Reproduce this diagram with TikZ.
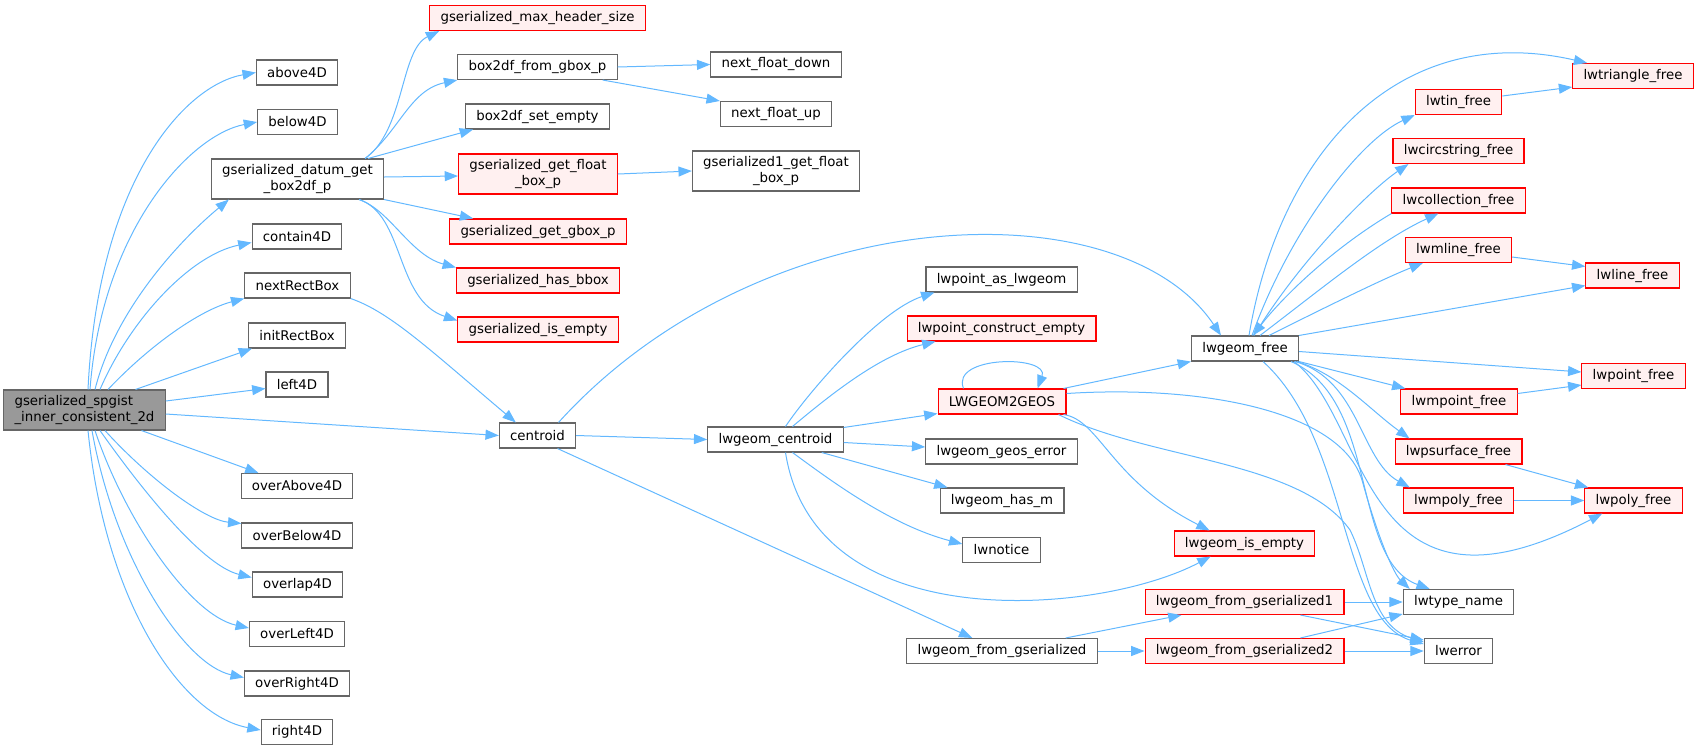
\documentclass[tikz,border=0pt]{standalone}
\usepackage{fontspec}
\setmainfont{DejaVu Sans}
\usepackage{xcolor}
\usetikzlibrary{arrows.meta,calc}

\definecolor{callblue}{HTML}{63B8FF}
\definecolor{boxgray}{HTML}{666666}
\definecolor{rootfill}{HTML}{999999}
\definecolor{redfill}{HTML}{FFF0F0}

\begin{document}
\begin{tikzpicture}[
    x=0.75pt, y=-0.75pt,
    fn/.style={rectangle, draw=boxgray, fill=white, line width=0.8pt, align=center,
        inner xsep=8.1pt, inner ysep=3pt, minimum height=18.75pt,
        font=\fontsize{10}{11.3}\selectfont},
    fnred/.style={fn, draw=red, fill=redfill},
    fnroot/.style={fn, fill=rootfill, align=left},
    two/.style={minimum height=30pt},
    call/.style={-{Triangle[length=10pt,width=7.5pt]}, draw=callblue, line width=0.75pt},
]
    \useasboundingbox (0,0) rectangle (1699,751);

    % caller
    \node[fnroot, two] (root) at (84.5,410) {gserialized\_spgist\\\_inner\_consistent\_2d};

    % first column
    \node[fn] (above) at (297,72.5) {above4D};
    \node[fn] (below) at (297.5,122) {below4D};
    \node[fn, two] (datum) at (297.5,179) {gserialized\_datum\_get\\\_box2df\_p};
    \node[fn] (contain) at (297,236.5) {contain4D};
    \node[fn] (nextrect) at (297.5,285.5) {nextRectBox};
    \node[fn] (initrect) at (297,335.5) {initRectBox};
    \node[fn] (left) at (297,384.5) {left4D};
    \node[fn] (overabove) at (297,486) {overAbove4D};
    \node[fn] (overbelow) at (297,535.5) {overBelow4D};
    \node[fn] (overlap) at (297.5,584.5) {overlap4D};
    \node[fn] (overleft) at (297,634) {overLeft4D};
    \node[fn] (overright) at (297,683.5) {overRight4D};
    \node[fn] (right) at (297,732) {right4D};

    % second column
    \node[fnred] (maxhdr) at (537.5,18) {gserialized\_max\_header\_size};
    \node[fn] (b2dfrom) at (537.5,67) {box2df\_from\_gbox\_p};
    \node[fn] (b2dempty) at (537.5,116.5) {box2df\_set\_empty};
    \node[fnred, two] (getfloat) at (538,174) {gserialized\_get\_float\\\_box\_p};
    \node[fnred] (getgbox) at (538,231.5) {gserialized\_get\_gbox\_p};
    \node[fnred] (hasbbox) at (538,280.5) {gserialized\_has\_bbox};
    \node[fnred] (isempty) at (538,329.5) {gserialized\_is\_empty};
    \node[fn] (centroid) at (537.5,435.5) {centroid};

    % third column
    \node[fn] (nfdown) at (776,64.5) {next\_float\_down};
    \node[fn] (nfup) at (776,114) {next\_float\_up};
    \node[fn, two] (g1float) at (776,171) {gserialized1\_get\_float\\\_box\_p};
    \node[fn] (lwcentroid) at (775.5,439.5) {lwgeom\_centroid};

    % fourth column
    \node[fn] (lwpointas) at (1001.5,279.5) {lwpoint\_as\_lwgeom};
    \node[fnred] (lwpointce) at (1001.5,328.5) {lwpoint\_construct\_empty};
    \node[fnred] (lwgeos) at (1002,401.5) {LWGEOM2GEOS};
    \node[fn] (geoserr) at (1001.5,451.5) {lwgeom\_geos\_error};
    \node[fn] (hasm) at (1002,500.5) {lwgeom\_has\_m};
    \node[fn] (lwnotice) at (1001.5,550) {lwnotice};
    \node[fn] (fromgs) at (1002,651) {lwgeom\_from\_gserialized};

    % fifth column
    \node[fn] (lwfree) at (1245,348.5) {lwgeom\_free};
    \node[fnred] (isemptylw) at (1244.5,543.5) {lwgeom\_is\_empty};
    \node[fnred] (fromgs1) at (1244.5,602) {lwgeom\_from\_gserialized1};
    \node[fnred] (fromgs2) at (1244.5,651) {lwgeom\_from\_gserialized2};

    % sixth column
    \node[fnred] (lwtin) at (1458.5,102) {lwtin\_free};
    \node[fnred] (lwcirc) at (1458.5,151) {lwcircstring\_free};
    \node[fnred] (lwcoll) at (1458.5,200.5) {lwcollection\_free};
    \node[fnred] (lwmline) at (1458.5,250) {lwmline\_free};
    \node[fnred] (lwmpoint) at (1459,401.5) {lwmpoint\_free};
    \node[fnred] (lwpsurf) at (1458.5,451.5) {lwpsurface\_free};
    \node[fnred] (lwmpoly) at (1458.5,500.5) {lwmpoly\_free};
    \node[fn] (lwtype) at (1458.5,602) {lwtype\_name};
    \node[fn] (lwerror) at (1458.5,651) {lwerror};

    % last column
    \node[fnred] (lwtriangle) at (1633,76) {lwtriangle\_free};
    \node[fnred] (lwline) at (1632.5,275.5) {lwline\_free};
    \node[fnred] (lwpoint) at (1633.5,376) {lwpoint\_free};
    \node[fnred] (lwpoly) at (1633.5,500.5) {lwpoly\_free};

    % calls from the root
    \draw[call] ($(root.north)+(3.5,0)$) .. controls (98,180) and (185,85) .. (above.west);
    \draw[call] ($(root.north)+(5.5,0)$) .. controls (102,230) and (190,135) .. (below.west);
    \draw[call] ($(root.north)+(10.5,0)$) .. controls (115,310) and (180,240) .. ($(datum.south west)+(18,0)$);
    \draw[call] ($(root.north)+(15.5,0)$) .. controls (130,320) and (190,255) .. ($(contain.west)+(0,6)$);
    \draw[call] ($(root.north)+(23.5,0)$) .. controls (150,345) and (200,310) .. (nextrect.south west);
    \draw[call] ($(root.north)+(51,0)$) -- ($(initrect.south west)+(4,0)$);
    \draw[call] ($(root.east)+(0,-9)$) -- ($(left.west)+(0,4)$);
    \draw[call] ($(root.east)+(0,4)$) -- (centroid.west);
    \draw[call] ($(root.south)+(57,0)$) -- ($(overabove.north west)+(18,0)$);
    \draw[call] ($(root.south)+(20.5,0)$) .. controls (150,480) and (205,520) .. ($(overbelow.north west)+(0,1)$);
    \draw[call] ($(root.south)+(15.5,0)$) .. controls (135,480) and (200,565) .. ($(overlap.north west)+(0,6)$);
    \draw[call] ($(root.south)+(10.5,0)$) .. controls (125,520) and (190,615) .. ($(overleft.west)+(0,-6)$);
    \draw[call] ($(root.south)+(7.5,0)$) .. controls (115,560) and (185,665) .. ($(overright.west)+(0,-6)$);
    \draw[call] ($(root.south)+(3.5,0)$) .. controls (105,600) and (180,715) .. ($(right.west)+(0,-2)$);

    % gserialized_datum_get_box2df_p
    \draw[call] ($(datum.north east)+(-19,0)$) .. controls (405,130) and (400,50) .. ($(maxhdr.south west)+(10,0)$);
    \draw[call] ($(datum.north east)+(-19,0)$) .. controls (400,130) and (410,90) .. (b2dfrom.south west);
    \draw[call] ($(datum.north east)+(-16,0)$) -- ($(b2dempty.south west)+(8,0)$);
    \draw[call] ($(datum.east)+(0,-2)$) -- ($(getfloat.west)+(0,2)$);
    \draw[call] (datum.south east) -- ($(getgbox.north west)+(24,0)$);
    \draw[call] ($(datum.south east)+(-25,0)$) .. controls (390,210) and (410,255) .. (hasbbox.north west);
    \draw[call] ($(datum.south east)+(-25,0)$) .. controls (405,215) and (395,300) .. ($(isempty.west)+(0,-9)$);
    \draw[call] (b2dfrom.east) -- (nfdown.west);
    \draw[call] ($(b2dfrom.south east)+(-15,0)$) -- (nfup.north west);
    \draw[call] (getfloat.east) -- (g1float.west);

    % centroid
    \draw[call] (nextrect.south east) .. controls (390,312) and (430,350) .. ($(centroid.north west)+(17,0)$);
    \draw[call] ($(centroid.north)+(21,0)$) .. controls (760,200) and (1120,185) .. ($(lwfree.north west)+(30,0)$);
    \draw[call] (centroid.east) -- (lwcentroid.west);
    \draw[call] ($(centroid.south)+(20,0)$) -- ($(fromgs.north west)+(66,0)$);

    % lwgeom_centroid
    \draw[call] ($(lwcentroid.north)+(10,0)$) .. controls (810,390) and (880,310) .. ($(lwpointas.south west)+(9,0)$);
    \draw[call] ($(lwcentroid.north)+(17,0)$) .. controls (830,395) and (880,355) .. ($(lwpointce.south west)+(29,0)$);
    \draw[call] ($(lwcentroid.north east)+(0,1)$) -- ($(lwgeos.south west)+(0,-1)$);
    \draw[call] ($(lwcentroid.east)+(0,3)$) -- ($(geoserr.west)+(0,-4.5)$);
    \draw[call] ($(lwcentroid.south east)+(-22,0)$) -- ($(hasm.north west)+(8,0)$);
    \draw[call] ($(lwcentroid.south)+(17,0)$) .. controls (830,480) and (890,525) .. ($(lwnotice.west)+(0,-6)$);
    \draw[call] ($(lwcentroid.south)+(10,0)$) .. controls (815,640) and (1100,615) .. ($(isemptylw.south west)+(37,0)$);

    % LWGEOM2GEOS
    \draw[call] ($(lwgeos.north west)+(26,0)$) .. controls (950,355) and (1050,355) .. ($(lwgeos.north east)+(-29,0)$);
    \draw[call] ($(lwgeos.north east)+(-3,0)$) -- (lwfree.south west);
    \draw[call] ($(lwgeos.south east)+(-3,0)$) .. controls (1100,420) and (1110,480) .. ($(isemptylw.north west)+(36,0)$);
    \draw[call] ($(lwgeos.east)+(0,-8)$) .. controls (1200,385) and (1340,410) .. (1362,480)
        .. controls (1380,545) and (1395,575) .. ($(lwtype.north west)+(7,0)$);
    \draw[call] ($(lwgeos.south east)+(-8,0)$) .. controls (1150,460) and (1300,460) .. (1350,530)
        .. controls (1370,570) and (1370,625) .. ($(lwerror.west)+(0,-9)$);

    % lwgeom_free
    \draw[call] ($(lwfree.north)+(4,0)$) .. controls (1280,150) and (1400,20) .. ($(lwtriangle.north west)+(15,0)$);
    \draw[call] ($(lwfree.north)+(7,0)$) .. controls (1290,230) and (1360,140) .. (lwtin.south west);
    \draw[call] ($(lwfree.north)+(9,0)$) .. controls (1300,260) and (1370,190) .. ($(lwcirc.south west)+(16,0)$);
    \draw[call] ($(lwfree.north)+(15,0)$) .. controls (1320,290) and (1380,240) .. ($(lwcoll.south west)+(47,0)$);
    \draw[call] (lwcoll.south west) .. controls (1330,250) and (1280,300) .. ($(lwfree.north)+(8,0)$);
    \draw[call] ($(lwfree.north)+(24,0)$) .. controls (1310,315) and (1380,280) .. ($(lwmline.south west)+(18,0)$);
    \draw[call] (lwfree.north east) -- ($(lwline.south west)+(0,-3)$);
    \draw[call] ($(lwfree.east)+(0,3)$) -- ($(lwpoint.west)+(0,-4)$);
    \draw[call] (lwfree.south east) -- ($(lwmpoint.north west)+(5,0)$);
    \draw[call] ($(lwfree.south east)+(-2,0)$) .. controls (1340,375) and (1370,410) .. ($(lwpsurf.north west)+(15,0)$);
    \draw[call] ($(lwfree.south east)+(-4,0)$) .. controls (1360,380) and (1360,460) .. ($(lwmpoly.north west)+(7,0)$);
    \draw[call] ($(lwfree.south east)+(-5,0)$) .. controls (1370,420) and (1360,640) .. ($(lwpoly.south west)+(18,0)$);
    \draw[call] ($(lwfree.south east)+(-8,0)$) .. controls (1380,400) and (1350,560) .. ($(lwtype.north west)+(27,0)$);
    \draw[call] ($(lwfree.south)+(18,0)$) .. controls (1350,440) and (1340,620) .. ($(lwerror.west)+(0,-7)$);

    % the *_free helpers
    \draw[call] ($(lwtin.east)+(0,-6)$) -- ($(lwtriangle.south west)+(0,-2)$);
    \draw[call] ($(lwmline.east)+(0,7)$) -- ($(lwline.north west)+(0,4)$);
    \draw[call] ($(lwmpoint.east)+(0,-8)$) -- ($(lwpoint.south west)+(0,-4)$);
    \draw[call] ($(lwpsurf.south east)+(-17,0)$) -- ($(lwpoly.north west)+(4,0)$);
    \draw[call] (lwmpoly.east) -- (lwpoly.west);

    % lwgeom_from_gserialized
    \draw[call] ($(fromgs.north east)+(-32,0)$) -- ($(fromgs1.south west)+(37,0)$);
    \draw[call] (fromgs.east) -- (fromgs2.west);
    \draw[call] (fromgs1.east) -- (lwtype.west);
    \draw[call] ($(fromgs1.south east)+(-44,0)$) -- ($(lwerror.west)+(0,-11)$);
    \draw[call] ($(fromgs2.north east)+(-44,0)$) -- ($(lwtype.south west)+(0,-1)$);
    \draw[call] (fromgs2.east) -- (lwerror.west);
\end{tikzpicture}
\end{document}
